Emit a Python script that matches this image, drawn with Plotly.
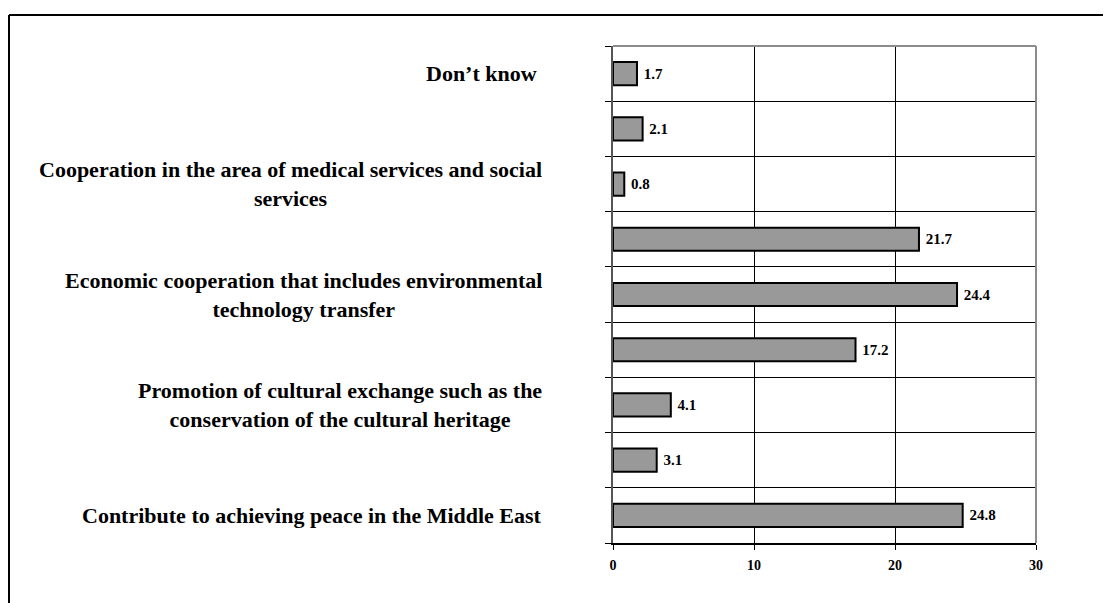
import plotly.graph_objects as go

# Data (bottom to top)
categories = [
    "Contribute to achieving peace in the Middle East",
    "",
    "Promotion of cultural exchange such as the<br>conservation of the cultural heritage",
    "",
    "Economic cooperation that includes environmental<br>technology transfer",
    "",
    "Cooperation in the area of medical services and social<br>services",
    "",
    "Don\u2019t know\u00a0",
]
values = [24.8, 3.1, 4.1, 17.2, 24.4, 21.7, 0.8, 2.1, 1.7]
x_ticks = [0, 10, 20, 30]

positions = list(range(len(values)))
FONT = "Liberation Serif, Times New Roman, serif"

W, H = 1111, 603
ML, MR, MT, MB = 605, 83, 38, 68
pw = W - ML - MR
ph = H - MT - MB

fig = go.Figure()
fig.add_trace(go.Bar(
    x=values, y=positions, orientation="h", width=0.42,
    marker=dict(color="#999999", line=dict(color="black", width=2)),
    text=[f"\u00a0{v:.1f}" for v in values], textposition="outside",
    textfont=dict(family=FONT, size=15, color="black", weight="bold"),
    cliponaxis=False, showlegend=False,
))

annotations = []
for p, c in zip(positions, categories):
    if c:
        annotations.append(dict(
            x=0, xref="paper", y=p, yref="y", text=c, showarrow=False,
            xanchor="right", yanchor="middle", align="center", xshift=-69,
            font=dict(family=FONT, size=22, color="black", weight="bold"),
        ))

# frame and plot borders
fx = (1 - ML) / pw
fy = 1 + (MT - 7) / ph
shapes = [
    dict(type="line", xref="paper", yref="paper", x0=fx, x1=fx, y0=-1, y1=fy,
         line=dict(color="black", width=2)),
    dict(type="line", xref="paper", yref="paper", x0=fx, x1=2, y0=fy, y1=fy,
         line=dict(color="black", width=2)),
    dict(type="line", xref="paper", yref="paper", x0=0, x1=1, y0=1, y1=1,
         line=dict(color="#8c8c8c", width=2)),
    dict(type="line", xref="paper", yref="paper", x0=1, x1=1, y0=0, y1=1,
         line=dict(color="#8c8c8c", width=2)),
]

fig.update_layout(
    width=W, height=H,
    margin=dict(l=ML, r=MR, t=MT, b=MB),
    plot_bgcolor="white", paper_bgcolor="white",
    annotations=annotations, shapes=shapes,
    xaxis=dict(
        range=[0, 30], tickvals=x_ticks, ticktext=[str(t) for t in x_ticks],
        showgrid=True, gridcolor="black", gridwidth=1,
        showline=True, linecolor="black", linewidth=1.5,
        ticks="outside", ticklen=5, tickcolor="black",
        ticklabelstandoff=3,
        tickfont=dict(family=FONT, size=14, color="black", weight="bold"),
        zeroline=False, fixedrange=True,
    ),
    yaxis=dict(
        range=[-0.5, len(values) - 0.5],
        tickvals=[i - 0.5 for i in range(len(values) + 1)],
        showticklabels=False,
        showgrid=True, gridcolor="black", gridwidth=1,
        showline=True, linecolor="#555555", linewidth=1.5,
        ticks="outside", ticklen=6, tickcolor="black",
        zeroline=False, fixedrange=True,
    ),
)

fig.write_html("out.html")
